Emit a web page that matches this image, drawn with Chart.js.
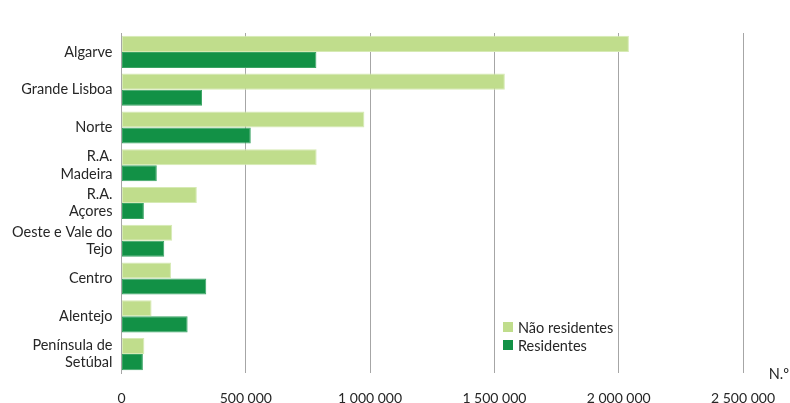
<!DOCTYPE html>
<html>
<head>
<meta charset="utf-8">
<script src="https://cdn.jsdelivr.net/npm/chart.js@4/dist/chart.umd.min.js"></script>
<style>
  html, body { margin: 0; padding: 0; background: #ffffff; }
  #wrap { width: 790px; height: 403px; position: relative; }
</style>
</head>
<body>
<div id="wrap"><canvas id="chart" width="790" height="403"></canvas></div>
<script>
// Regions (multi-line labels as arrays)
const regions = [
  'Algarve',
  'Grande Lisboa',
  'Norte',
  ['R.A.', 'Madeira'],
  ['R.A.', 'Açores'],
  ['Oeste e Vale do', 'Tejo'],
  'Centro',
  'Alentejo',
  ['Península de', 'Setúbal']
];

// Guests (N.º)
const naoResidentes = [2041000, 1542000, 977000, 785000, 303000, 204000, 199000, 121000, 92000];
const residentes    = [784000, 324000, 520000, 142000, 90000, 172000, 341000, 266000, 86000];

const seriesNames = ['Não residentes', 'Residentes'];
const tickValues = [0, 500000, 1000000, 1500000, 2000000, 2500000];
const unitLabel = 'N.º';

const FONT = 'Lato, "Open Sans", sans-serif';
const TEXT = '#262626';

function fmt(v) {
  return String(v).replace(/\B(?=(\d{3})+(?!\d))/g, ' ');
}

// Legend drawn inside the plot, plus the unit label at the bottom right
const extras = {
  id: 'extras',
  afterDraw(chart) {
    const ctx = chart.ctx;
    ctx.save();
    ctx.font = '14.5px ' + FONT;
    ctx.textBaseline = 'middle';
    ctx.textAlign = 'left';
    const lx = 503;
    const ys = [327, 345];
    chart.data.datasets.forEach((ds, i) => {
      ctx.fillStyle = ds.backgroundColor;
      ctx.fillRect(lx, ys[i] - 5, 10, 10);
      ctx.fillStyle = TEXT;
      ctx.fillText(ds.label, lx + 15, ys[i] + 1);
    });
    ctx.textAlign = 'right';
    ctx.fillText(unitLabel, 789, chart.chartArea.bottom + 1);
    ctx.restore();
  }
};

new Chart(document.getElementById('chart'), {
  type: 'bar',
  data: {
    labels: regions,
    datasets: [
      { label: seriesNames[0], data: naoResidentes, backgroundColor: '#c0dd8c', borderColor: '#d6eab4', borderWidth: 1, borderSkipped: false },
      { label: seriesNames[1], data: residentes, backgroundColor: '#129146', borderColor: '#3aa464', borderWidth: 1, borderSkipped: false }
    ]
  },
  options: {
    indexAxis: 'y',
    responsive: false,
    animation: false,
    layout: { padding: { top: 33, right: 47, bottom: 0, left: 0 } },
    plugins: { legend: { display: false }, tooltip: { enabled: false } },
    datasets: { bar: { categoryPercentage: 0.85, barPercentage: 1.0 } },
    scales: {
      x: {
        min: 0,
        max: 2500000,
        afterBuildTicks(scale) { scale.ticks = tickValues.map(v => ({ value: v })); },
        afterFit(scale) {
          scale.height = 30;
          scale.paddingLeft = 0;
          scale.paddingRight = 0;
        },
        grid: { color: '#a6a6a6', lineWidth: 1, drawTicks: false },
        border: { display: false },
        ticks: {
          padding: 17,
          color: TEXT,
          font: { family: FONT, size: 14 },
          maxRotation: 0,
          autoSkip: false,
          callback: v => fmt(v)
        }
      },
      y: {
        afterFit(scale) {
          scale.width = 121.5;
          scale.paddingTop = 0;
          scale.paddingBottom = 0;
        },
        grid: { display: false, drawTicks: false },
        border: { display: true, color: '#a6a6a6', width: 1 },
        ticks: {
          padding: 9,
          autoSkip: false,
          color: TEXT,
          font: { family: FONT, size: 14.5 }
        }
      }
    }
  },
  plugins: [extras]
});
</script>
</body>
</html>
